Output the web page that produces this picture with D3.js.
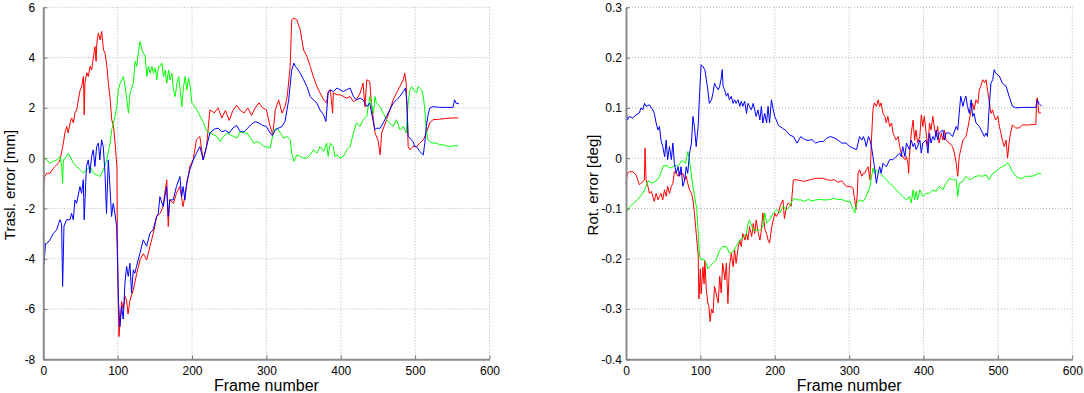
<!DOCTYPE html>
<html>
<head>
<meta charset="utf-8">
<script src="https://cdn.jsdelivr.net/npm/d3@7"></script>
<style>
	body{ margin:0; background:#fff; }
	svg text{ font-family: "Liberation Sans", Arial, Helvetica, sans-serif; fill:#000; }
</style>
</head>
<body>
<div id="chart"></div>
<script>
var xTicks = [0,100,200,300,400,500,600];
var traslTicks = [-8,-6,-4,-2,0,2,4,6];
var rotTicks = [-0.4,-0.3,-0.2,-0.1,0,0.1,0.2,0.3];

// translation error [mm], [frame, value]
var traslRed = [
	[0,-1.33],[2,-0.73],[4.5,-0.6],[9,-0.6],[13.5,-0.4],[16,-0.33],[20,-0.2],[22.5,-0.07],[25,0.3],[27,0.6],
	[29,1.0],[31.5,1.26],[33.5,1.0],[36,1.4],[38,1.6],[40.5,1.4],[42.5,1.8],[45,1.92],[47,2.3],[49.5,2.7],
	[51.5,2.85],[54,3.25],[55,1.72],[56,3.0],[58.5,3.4],[60.5,3.25],[63,3.65],[65,3.5],[67.5,4.05],[69.5,4.44],
	[71,3.85],[72,4.58],[74,4.97],[76.5,4.7],[78.5,5.04],[81,4.3],[83,4.18],[85.5,3.65],[87.5,2.98],[90,2.32],
	[92,1.53],[94.5,1.26],[96.5,0.6],[99,-0.33],[99.5,-3.0],[101,-6.0],[101.7,-7.1],[103,-6.6],[105.3,-5.7],[107.5,-6.0],
	[110,-5.5],[112,-5.65],[114,-6.2],[116.5,-5.65],[121,-5.25],[125.5,-4.6],[130,-4.05],[134.5,-3.8],[139,-4.05],[143.5,-3.5],
	[148,-2.98],[152.5,-2.32],[157,-2.2],[161,-1.93],[166,-0.86],[168,-2.72],[170,-1.66],[175,-1.8],[179,-1.4],[183.5,-1.13],
	[188,-1.93],[192.5,-1.13],[197,-0.33],[201.5,-0.07],[206,0.73],[210.5,0.86],[215,-0.07],[219.5,0.46],[224,1.92],[230,1.8],
	[235,2.0],[240,1.6],[245,1.9],[250,1.5],[255,1.9],[260,2.1],[265,1.9],[270,1.8],[275,2.0],[280,1.7],
	[285,2.0],[290,2.2],[295,2.0],[300,1.92],[305,1.26],[308.5,0.93],[312,1.92],[316.5,2.32],[321,1.79],[325,2.05],
	[328,2.45],[332,3.65],[334,5.5],[337,5.57],[341,5.5],[345.5,5.1],[350,4.3],[354.5,4.05],[359,3.65],[363,3.25],
	[368,2.85],[372,2.6],[377,2.32],[381,2.19],[383,2.65],[386,2.72],[389,1.79],[390,2.6],[395,2.52],[399,2.52],
	[403.5,2.45],[408,2.39],[412.5,2.45],[417,2.25],[421,2.32],[426,2.59],[430,2.98],[432.5,2.05],[435,3.12],[439,3.05],
	[441.5,2.05],[444,1.53],[446,1.0],[450,0.73],[453,0.13],[455,1.0],[461.6,1.53],[466,1.92],[470.5,2.32],[475,2.59],
	[479.5,2.85],[484,3.12],[486,3.38],[488,2.98],[490.6,0.46],[493,0.33],[497,0.46],[502,0.46],[506,0.6],[511,0.73],
	[515,1.0],[519.6,1.4],[524,1.53],[533,1.55],[542,1.58],[551,1.6],[558,1.6]
];
var traslGreen = [
	[0,0.07],[4.5,-0.07],[9,-0.2],[13.5,-0.13],[18,-0.07],[22.5,0.07],[24.7,-0.33],[26,-1.0],[27,-0.07],[31.4,0.07],
	[33.7,0.2],[36,0.07],[40.4,-0.2],[45,-0.33],[49.4,-0.46],[54,-0.6],[58.4,-0.46],[63,-0.33],[67.4,-0.6],[71.8,-0.66],
	[76.3,-0.73],[80.8,-0.46],[85.3,-0.07],[89.8,0.6],[92,1.13],[94.3,1.4],[96.5,1.66],[98.8,2.05],[101,2.72],[103.3,2.98],
	[105.5,3.12],[107.8,3.25],[110,2.85],[112.3,2.32],[114.5,1.79],[116.7,2.59],[121,2.98],[123.5,3.85],[125.7,3.65],[128,4.24],
	[130.2,4.64],[132.5,4.31],[134.7,4.18],[137,4.05],[139.2,3.25],[141.4,3.65],[143.7,3.38],[146,3.65],[148.2,3.38],[150.4,3.58],
	[152.7,3.12],[155,3.65],[157,3.65],[159.4,3.78],[161.6,3.25],[164,3.5],[166,2.98],[168.4,3.5],[170.6,3.12],[172.9,3.38],
	[175,2.72],[177.4,2.45],[179.6,2.98],[182,3.25],[184,2.72],[186.3,2.05],[188.6,2.85],[190.8,3.25],[193,2.72],[195.3,3.18],
	[197.6,2.85],[199.8,2.19],[202,2.12],[206.6,1.92],[211,1.66],[215.5,1.4],[217.8,1.19],[220,1.06],[224.5,1.0],[229,0.93],
	[233.5,0.86],[238,0.66],[242.5,0.86],[247,1.0],[251.5,0.93],[256,0.86],[260.4,0.8],[265,1.06],[269.4,1.0],[274,1.0],
	[283,0.6],[287.4,0.66],[292,0.6],[296.4,0.46],[300,0.45],[305,0.4],[310,1.1],[314,1.2],[319,1.0],[323,0.8],
	[328,0.86],[332,0.73],[334,0.2],[337,-0.13],[341,0.13],[345.5,0.07],[350,0.0],[354.5,0.0],[359,0.13],[363,0.33],
	[368,0.2],[372,0.46],[377,0.27],[381,0.6],[383,0.07],[386,0.6],[390,0.46],[392,0.07],[395,0.13],[399,0.0],
	[403.5,0.07],[408,0.33],[412.5,0.46],[417,1.0],[421,1.4],[426,1.26],[430,1.53],[435,1.66],[439,2.45],[444,1.79],
	[446,2.45],[448,2.19],[453,2.05],[457,1.79],[461.6,1.53],[466,1.4],[470.5,1.26],[475,1.53],[479.5,1.13],[484,1.26],
	[486,1.13],[488,1.0],[490.6,2.19],[493,2.72],[495,2.85],[500,2.65],[502,2.59],[504,2.85],[506,2.79],[508.5,2.72],
	[511,2.45],[513,1.92],[515,1.13],[517,0.73],[519.6,0.66],[524,0.6],[528.5,0.6],[533,0.53],[537.5,0.53],[542,0.49],
	[546,0.46],[551,0.49],[558,0.49]
];
var traslBlue = [
	[0,-3.0],[1,-4.2],[3,-3.4],[4.5,-3.4],[9,-3.25],[13.4,-3.0],[18,-2.85],[22.4,-2.45],[24.6,-2.6],[26,-5.1],
	[27.8,-2.7],[31.4,-2.45],[35.8,-2.45],[38,-2.2],[40.3,-2.45],[42.6,-1.66],[44.8,-1.8],[49.3,-1.13],[51.5,-1.4],[53.8,-0.86],
	[55,-2.45],[58,-0.33],[60.5,-0.07],[62.7,-0.6],[65,0.07],[67.2,0.33],[69.4,-0.33],[71.7,0.46],[74,0.6],[76,-0.07],
	[78.4,0.73],[80.6,0.46],[83,-0.6],[85,-2.2],[87.4,-0.07],[89.6,-1.13],[91.8,-2.32],[94,-1.8],[96.3,-2.2],[98.6,-2.72],
	[100,-4.3],[101,-5.64],[103,-6.7],[105.3,-5.9],[107.5,-6.4],[109.8,-4.97],[112,-4.3],[114.2,-4.7],[116.5,-4.18],[118.7,-5.37],
	[121,-4.44],[123,-4.58],[125.4,-4.3],[130,-3.78],[134.4,-3.25],[139,-3.5],[143.4,-2.98],[147.8,-2.85],[152.3,-2.32],[154.6,-2.2],
	[156.8,-1.53],[161.3,-1.93],[165.8,-1.13],[168,-2.32],[170,-1.66],[174.7,-1.66],[179,-1.13],[183.7,-0.73],[186,-1.53],[188,-1.13],
	[190.4,-1.66],[192.6,-1.0],[197,-0.46],[201.6,-0.07],[206,0.2],[210.6,0.46],[215,-0.07],[219.5,0.46],[224,1.0],[230,1.15],
	[235,1.2],[240,1.05],[245,1.1],[250,1.0],[255,1.2],[260,1.3],[265,1.05],[270,1.05],[275,1.2],[280,1.35],
	[285,1.45],[290,1.4],[295,1.3],[300,1.26],[305,1.0],[308,0.9],[312,1.13],[316,1.19],[321,1.26],[325,1.46],
	[330,2.32],[334,3.5],[337,3.78],[339,3.65],[341,3.58],[345.5,3.38],[350,3.12],[354.5,2.85],[359,2.45],[363,2.32],
	[368,2.19],[372,1.92],[377,1.72],[380,1.46],[383,2.59],[386,2.72],[390,2.65],[395,2.79],[399,2.72],[403.5,2.65],
	[408,2.72],[412.5,2.79],[417,2.45],[421,2.32],[426,2.39],[430,2.32],[435,2.05],[439,2.19],[444,1.4],[446,1.13],
	[448,1.19],[453,1.19],[457,1.4],[461.6,1.66],[466,1.92],[470.5,2.19],[475,2.32],[479.5,2.45],[484,2.65],[487,2.79],
	[489,2.19],[490.6,0.86],[493,0.8],[497,0.66],[499.5,0.46],[502,0.46],[506,0.27],[511,0.13],[513,0.6],[515,1.26],
	[517,1.66],[519.6,1.99],[524,2.05],[533,2.02],[542,2.02],[551,2.02],[553,2.32],[555,2.19],[559,2.16]
];

// rotation error [deg], [frame, value]
var rotRed = [
	[0,-0.05],[2,-0.03],[4.5,-0.027],[9,-0.027],[13.5,-0.033],[15.7,-0.043],[18,-0.053],[20,-0.05],[22.5,-0.047],[24.7,-0.043],
	[25.6,0.02],[27,-0.043],[29,-0.053],[31.5,-0.07],[34,-0.066],[36,-0.076],[38,-0.086],[40.5,-0.07],[43,-0.083],[45,-0.076],
	[47,-0.07],[49.4,-0.083],[51.7,-0.063],[54,-0.076],[56,-0.056],[58.4,-0.07],[61,-0.056],[63,-0.05],[65,-0.027],[67.4,-0.03],
	[70,-0.036],[72,-0.027],[74,-0.033],[76.4,-0.03],[79,-0.043],[81,-0.036],[83,-0.05],[85.4,-0.063],[88,-0.07],[90,-0.083],
	[92,-0.109],[94.4,-0.15],[97,-0.19],[98,-0.28],[100,-0.22],[101,-0.27],[103.4,-0.216],[105,-0.25],[106,-0.203],[108,-0.262],
	[110,-0.288],[111.5,-0.295],[113,-0.325],[115,-0.3],[117,-0.308],[119,-0.255],[121,-0.268],[124,-0.288],[126,-0.235],[128,-0.268],
	[130,-0.209],[133,-0.242],[135,-0.209],[137,-0.289],[139,-0.216],[141.6,-0.189],[144,-0.216],[146,-0.182],[148,-0.209],[151,-0.176],
	[153,-0.163],[155,-0.176],[157,-0.15],[160,-0.163],[162,-0.15],[164,-0.163],[166,-0.136],[169,-0.156],[171,-0.13],[173,-0.15],
	[175,-0.123],[178,-0.15],[180,-0.163],[182,-0.143],[184,-0.109],[187,-0.143],[189,-0.15],[191,-0.163],[193,-0.169],[196,-0.136],
	[198,-0.123],[200,-0.109],[202,-0.116],[205,-0.109],[207,-0.096],[209,-0.089],[211,-0.083],[213,-0.12],[216,-0.096],[218,-0.089],
	[220,-0.092],[222,-0.096],[225,-0.043],[230,-0.043],[235,-0.045],[240,-0.046],[245,-0.044],[250,-0.042],[255,-0.04],[260,-0.04],
	[265,-0.04],[270,-0.043],[275,-0.044],[280,-0.043],[285,-0.048],[290,-0.045],[296,-0.056],[301,-0.056],[305,-0.059],[307.6,-0.083],
	[309,-0.103],[311,-0.07],[312,-0.03],[314,-0.023],[317,-0.036],[319,-0.03],[321,-0.03],[323,-0.023],[325.5,-0.017],[328,-0.043],
	[329,-0.003],[330,0.036],[332,0.096],[334,0.11],[336.6,0.103],[339,0.116],[341,0.103],[343,0.11],[345.5,0.089],[348,0.083],
	[350,0.07],[352,0.083],[354.5,0.063],[357,0.07],[359,0.05],[361,0.043],[363,0.036],[366,0.043],[368,0.023],[370,0.01],
	[372,0.003],[375,-0.003],[377,0.003],[379,-0.01],[380,-0.03],[381,0.003],[383.5,0.05],[386,0.076],[388,0.036],[390,0.056],
	[392,0.03],[395,0.043],[397,0.086],[399,0.063],[401,0.083],[403.5,0.05],[406,0.023],[408,0.07],[410,0.056],[412.5,0.083],
	[415,0.056],[417,0.043],[419,0.063],[421,0.03],[424,0.05],[426,0.036],[428,0.056],[430,0.036],[435,0.03],[439,0.023],
	[441.5,0.01],[444,-0.01],[446,-0.036],[448,0.003],[450,0.017],[453,0.036],[457,0.043],[459,0.056],[461.6,0.076],[464,0.096],
	[466,0.109],[468,0.096],[470.5,0.116],[473,0.109],[475,0.136],[477,0.143],[479.5,0.156],[482,0.15],[484,0.156],[486,0.136],
	[488,0.116],[490.6,0.089],[493,0.096],[495,0.083],[497,0.076],[500,0.083],[502,0.063],[504,0.05],[506,0.036],[508.5,0.023],
	[511,0.036],[513,0.0],[515,0.03],[517,0.05],[519.6,0.066],[524,0.06],[528.5,0.06],[533,0.066],[537.5,0.066],[542,0.066],
	[546,0.067],[551,0.067],[552,0.116],[553,0.12],[555,0.09],[558,0.09]
];
var rotGreen = [
	[0,-0.11],[5,-0.096],[10,-0.09],[15,-0.083],[20,-0.075],[25,-0.063],[30,-0.045],[35,-0.05],[40,-0.046],[45,-0.037],
	[50,-0.015],[55,-0.015],[60,-0.02],[65,-0.015],[70,-0.015],[75,-0.005],[80,-0.01],[83,0.013],[85,0.0],[90,-0.057],
	[95,-0.1],[99,-0.196],[101,-0.203],[103.4,-0.2],[108,-0.209],[110,-0.22],[112,-0.216],[117,-0.209],[121,-0.203],[126,-0.183],
	[130,-0.176],[135,-0.176],[139,-0.189],[144,-0.186],[148,-0.176],[153,-0.163],[157,-0.159],[162,-0.149],[164,-0.13],[166,-0.123],
	[171,-0.143],[175,-0.143],[180,-0.143],[184,-0.136],[186.5,-0.109],[189,-0.129],[193,-0.123],[198,-0.109],[202,-0.103],[207,-0.109],
	[211,-0.096],[216,-0.103],[220,-0.096],[225,-0.08],[230,-0.083],[235,-0.083],[240,-0.086],[245,-0.082],[250,-0.085],[255,-0.083],
	[260,-0.082],[265,-0.083],[270,-0.083],[275,-0.082],[280,-0.08],[285,-0.082],[290,-0.082],[296,-0.086],[301,-0.086],[305,-0.1],
	[307.6,-0.109],[310,-0.09],[314,-0.083],[319,-0.086],[323,-0.076],[328,-0.056],[332,-0.02],[334,-0.03],[336.6,-0.023],[341,-0.03],
	[345.5,-0.036],[350,-0.043],[354.5,-0.05],[359,-0.056],[363,-0.063],[368,-0.07],[372,-0.076],[377,-0.083],[381,-0.076],[383.5,-0.089],
	[386,-0.063],[388,-0.083],[390,-0.066],[392,-0.083],[395,-0.063],[399,-0.076],[403.5,-0.07],[408,-0.07],[412.5,-0.063],[417,-0.066],
	[421,-0.056],[426,-0.063],[430,-0.05],[435,-0.04],[439,-0.043],[444,-0.043],[446,-0.076],[448,-0.05],[453,-0.046],[457,-0.036],
	[461.6,-0.043],[466,-0.04],[470.5,-0.036],[475,-0.035],[479.5,-0.036],[484,-0.033],[488,-0.043],[493,-0.03],[497,-0.027],[502,-0.02],
	[506,-0.017],[511,-0.013],[513,-0.009],[515,-0.013],[519.6,-0.027],[524,-0.036],[528.5,-0.04],[533,-0.04],[537.5,-0.036],[542,-0.036],
	[546,-0.036],[551,-0.033],[555,-0.03],[558,-0.031]
];
var rotBlue = [
	[0,0.096],[2,0.076],[4.5,0.083],[9,0.08],[13.5,0.086],[18,0.09],[20,0.1],[22.5,0.096],[25,0.109],[27,0.103],
	[31.5,0.106],[36,0.096],[38,0.089],[40.5,0.07],[43,0.056],[45,0.063],[47,0.036],[49.4,0.023],[52,0.003],[54,0.036],
	[56,-0.003],[58.4,0.023],[61,-0.003],[63,0.03],[65,-0.01],[67.4,-0.03],[70,-0.017],[72,-0.036],[74,-0.017],[76.4,-0.056],
	[79,-0.043],[81,-0.017],[83,-0.03],[85.4,0.01],[88,0.03],[90,0.083],[92,0.063],[94.4,0.023],[97,0.063],[99,0.13],
	[101,0.186],[103.4,0.182],[106,0.176],[108,0.156],[110,0.136],[112,0.109],[115,0.116],[117,0.13],[119,0.149],[121,0.143],
	[124,0.136],[126,0.143],[128,0.159],[129.4,0.176],[130.5,0.143],[132.6,0.136],[135,0.123],[137,0.129],[139,0.116],[141.6,0.123],
	[144,0.109],[146,0.116],[148,0.109],[150.6,0.116],[153,0.103],[155,0.113],[157,0.103],[159.6,0.113],[162,0.089],[164,0.109],
	[166,0.103],[168.5,0.096],[171,0.109],[173,0.096],[175,0.083],[177.5,0.096],[180,0.076],[182,0.103],[184,0.07],[186.5,0.089],
	[189,0.07],[191,0.103],[193,0.07],[195.5,0.116],[198,0.096],[200,0.083],[202,0.076],[205,0.065],[210,0.06],[215,0.055],
	[220,0.046],[225,0.043],[230,0.03],[235,0.043],[240,0.037],[245,0.035],[250,0.037],[255,0.03],[260,0.033],[265,0.033],
	[270,0.04],[275,0.043],[280,0.04],[285,0.036],[290,0.03],[296,0.03],[301,0.023],[305,0.02],[310,0.017],[312,0.03],
	[314,0.043],[317,0.036],[319,0.043],[321,0.036],[323,0.023],[326,0.043],[328,0.036],[330,0.023],[332,0.003],[334,-0.017],
	[336.6,-0.05],[339,-0.03],[341,-0.017],[343,-0.03],[345.5,-0.01],[350,-0.017],[354.5,-0.003],[359,-0.003],[363,0.003],[368,0.01],
	[370,0.003],[372,0.023],[375,0.003],[377,0.03],[379,0.023],[381,0.017],[383.5,0.036],[386,0.023],[388,0.03],[390,0.017],
	[392,0.023],[395,0.036],[397,0.01],[399,0.03],[403.5,0.036],[406,0.01],[408,0.05],[410,0.03],[412.5,0.043],[415,0.036],
	[417,0.056],[419,0.036],[421,0.05],[426,0.056],[428,0.036],[430,0.05],[435,0.05],[439,0.043],[444,0.063],[446,0.056],
	[448,0.09],[450,0.123],[453,0.103],[455,0.116],[457,0.123],[459,0.103],[461.6,0.089],[464,0.116],[466,0.083],[468,0.089],
	[470.5,0.07],[475,0.063],[479.5,0.05],[481.7,0.043],[484,0.05],[486,0.043],[488,0.096],[490.6,0.149],[493,0.156],[495,0.176],
	[497,0.169],[502,0.163],[506,0.149],[511,0.143],[515,0.123],[519.6,0.103],[524,0.1],[533,0.101],[542,0.101],[551,0.101],
	[553,0.116],[555,0.109],[559,0.103]
];

var width = 1084, height = 393;
var plotTop = 7.3, plotBottom = 359.3;

var svg = d3.select("#chart")
	.append("svg")
	.attr("width", width)
	.attr("height", height);

function drawPanel(opts){
	var x = d3.scaleLinear()
		.domain([0, 600])
		.range([opts.left, opts.right]);

	var y = d3.scaleLinear()
		.domain([opts.yTicks[0], opts.yTicks[opts.yTicks.length - 1]])
		.range([plotBottom, plotTop]);

	var g = svg.append("g");

	// dotted grid
	g.append("g")
		.selectAll("line")
		.data(xTicks.slice(1))
		.enter()
		.append("line")
		.attr("x1", function(d){ return x(d); })
		.attr("x2", function(d){ return x(d); })
		.attr("y1", plotTop)
		.attr("y2", plotBottom)
		.attr("stroke", "#b4b4b4")
		.attr("stroke-width", 1)
		.attr("stroke-dasharray", "1,2");

	g.append("g")
		.selectAll("line")
		.data(opts.yTicks.slice(1))
		.enter()
		.append("line")
		.attr("x1", opts.left)
		.attr("x2", opts.right)
		.attr("y1", function(d){ return y(d); })
		.attr("y2", function(d){ return y(d); })
		.attr("stroke", "#b4b4b4")
		.attr("stroke-width", 1)
		.attr("stroke-dasharray", "1,2");

	// data lines
	var line = d3.line()
		.x(function(d){ return x(d[0]); })
		.y(function(d){ return y(d[1]); });

	opts.series.forEach(function(s){
		g.append("path")
			.datum(s.values)
			.attr("fill", "none")
			.attr("stroke", s.color)
			.attr("stroke-width", 1)
			.attr("stroke-linejoin", "round")
			.attr("d", line);
	});

	// axes
	var xAxis = g.append("g")
		.attr("transform", "translate(0," + plotBottom + ")")
		.call(d3.axisBottom(x)
			.tickValues(xTicks)
			.tickSizeInner(-4)
			.tickSizeOuter(0)
			.tickPadding(7)
			.tickFormat(function(d){ return String(d); }));

	var yAxis = g.append("g")
		.attr("transform", "translate(" + opts.left + ",0)")
		.call(d3.axisLeft(y)
			.tickValues(opts.yTicks)
			.tickSizeInner(-4)
			.tickSizeOuter(0)
			.tickPadding(opts.labelPad)
			.tickFormat(function(d){ return String(d); }));

	[xAxis, yAxis].forEach(function(a){
		a.select(".domain").attr("stroke", "#8c8c8c").attr("stroke-width", 2);
		a.selectAll(".tick line").attr("stroke", "#777");
		a.selectAll("text")
			.attr("font-size", "12px")
			.attr("font-family", "Liberation Sans, Arial, sans-serif")
			.attr("fill", "#000");
	});

	g.append("text")
		.attr("x", (opts.left + opts.right) / 2)
		.attr("y", 391)
		.attr("text-anchor", "middle")
		.attr("font-size", "16px")
		.text("Frame number");

	g.append("text")
		.attr("transform", "translate(" + opts.yLabelX + ",185) rotate(-90)")
		.attr("text-anchor", "middle")
		.attr("font-size", "15px")
		.text(opts.yLabel);
}

drawPanel({
	left: 43.3, right: 489.5,
	yTicks: traslTicks, labelPad: 8,
	yLabel: "Trasl. error [mm]", yLabelX: 15,
	series: [
		{values: traslRed, color: "#ff0000"},
		{values: traslGreen, color: "#00ff00"},
		{values: traslBlue, color: "#0000ff"}
	]
});

drawPanel({
	left: 626, right: 1072.3,
	yTicks: rotTicks, labelPad: 4,
	yLabel: "Rot. error [deg]", yLabelX: 598,
	series: [
		{values: rotRed, color: "#ff0000"},
		{values: rotGreen, color: "#00ff00"},
		{values: rotBlue, color: "#0000ff"}
	]
});
</script>
</body>
</html>
